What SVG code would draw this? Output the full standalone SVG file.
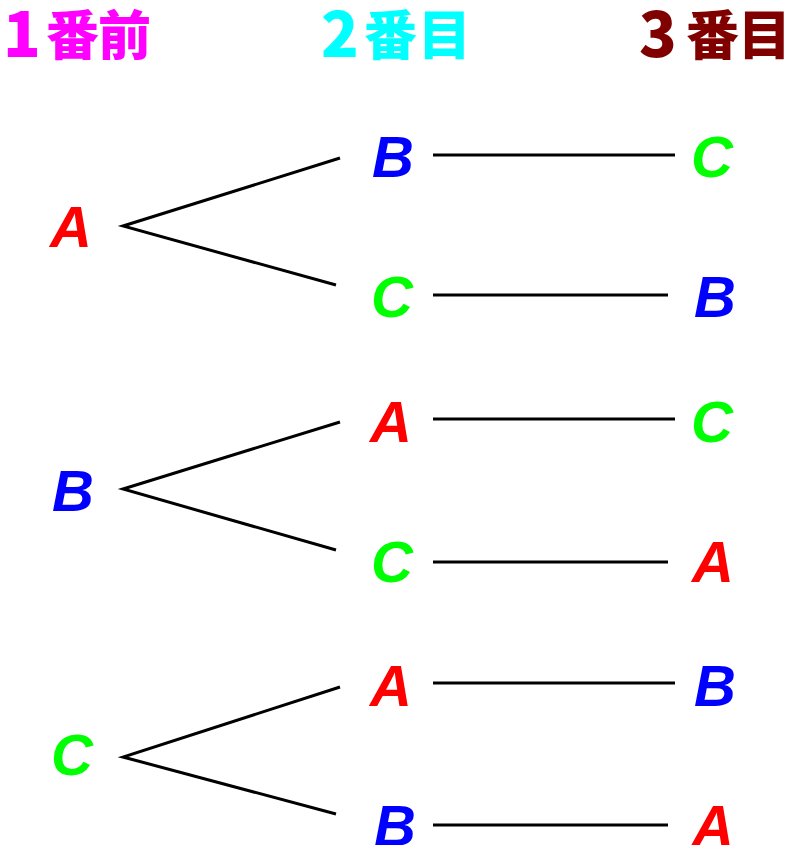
<svg xmlns="http://www.w3.org/2000/svg" width="795" height="845" viewBox="0 0 795 845">
<style>
.h{font-family:"Noto Sans CJK JP","Noto Sans",sans-serif;font-weight:900;font-size:53px}
.d{font-size:62px}
.l{font-family:"Liberation Sans",Arial,sans-serif;font-weight:bold;font-style:italic;font-size:58px}
.r{fill:#FF0000}.b{fill:#0000FF}.g{fill:#00FF00}
.e{stroke:#000;stroke-width:3;fill:none}
</style>
<rect width="795" height="845" fill="#fff"/>
<g id="headers">
<text class="h" y="55" fill="#FF00FF"><tspan class="d" x="3" y="57">1</tspan><tspan x="46" y="55">番</tspan><tspan x="98">前</tspan></text>
<text class="h" y="55" fill="#00FFFF"><tspan class="d" x="321" y="57">2</tspan><tspan x="364" y="55">番</tspan><tspan x="418">目</tspan></text>
<text class="h" y="55" fill="#800000"><tspan class="d" x="639" y="57">3</tspan><tspan x="686" y="55">番</tspan><tspan x="738">目</tspan></text>
</g>
<g id="connectors">
<path class="e" d="M340 158 L123 226 L336 285"/>
<path class="e" d="M340 422 L123 489 L336 550"/>
<path class="e" d="M340 687 L123 757 L336 814"/>
<line class="e" x1="433" y1="155" x2="675" y2="155"/>
<line class="e" x1="433" y1="295" x2="668" y2="295"/>
<line class="e" x1="433" y1="419" x2="675" y2="419"/>
<line class="e" x1="433" y1="562" x2="668" y2="562"/>
<line class="e" x1="433" y1="683" x2="675" y2="683"/>
<line class="e" x1="433" y1="825" x2="668" y2="825"/>
</g>
<g id="n1A"><text class="l r" x="50" y="247">A</text></g>
<g id="n1B"><text class="l b" x="52" y="511">B</text></g>
<g id="n1C"><text class="l g" x="51" y="775">C</text></g>
<g id="n2AB"><text class="l b" x="372" y="177">B</text></g>
<g id="n2AC"><text class="l g" x="371" y="317">C</text></g>
<g id="n2BA"><text class="l r" x="370" y="442">A</text></g>
<g id="n2BC"><text class="l g" x="371" y="582">C</text></g>
<g id="n2CA"><text class="l r" x="370" y="706">A</text></g>
<g id="n2CB"><text class="l b" x="374" y="846">B</text></g>
<g id="n3ABC"><text class="l g" x="691" y="177">C</text></g>
<g id="n3ACB"><text class="l b" x="694" y="317">B</text></g>
<g id="n3BAC"><text class="l g" x="691" y="442">C</text></g>
<g id="n3BCA"><text class="l r" x="692" y="582">A</text></g>
<g id="n3CAB"><text class="l b" x="694" y="706">B</text></g>
<g id="n3CBA"><text class="l r" x="692" y="846">A</text></g>
</svg>
